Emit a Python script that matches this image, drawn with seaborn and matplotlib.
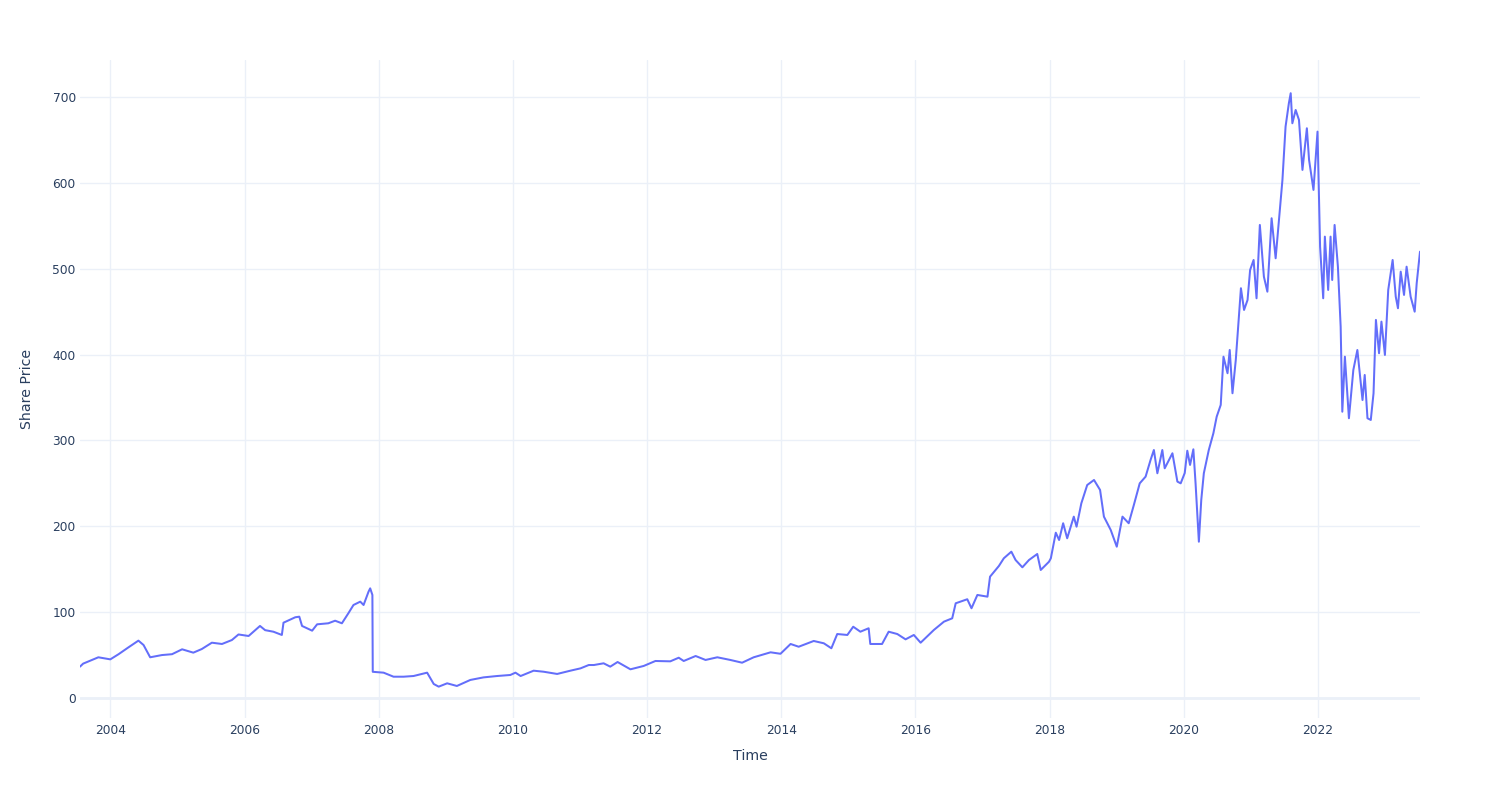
import matplotlib
matplotlib.use("Agg")
import matplotlib.pyplot as plt
import matplotlib.dates as mdates
import pandas as pd
import seaborn as sns

# ---- data ----
dates = [
    "2003-07-20", "2003-08-06", "2003-10-28", "2004-01-01", "2004-02-15", "2004-04-09",
    "2004-06-02", "2004-06-30", "2004-08-05", "2004-10-08", "2004-12-02", "2005-01-26",
    "2005-03-28", "2005-05-13", "2005-07-07", "2005-08-31", "2005-10-24", "2005-11-29",
    "2006-01-23", "2006-03-26", "2006-04-23", "2006-06-07", "2006-07-23", "2006-08-01",
    "2006-10-04", "2006-10-26", "2006-11-10", "2007-01-04", "2007-01-31", "2007-04-02",
    "2007-05-09", "2007-06-15", "2007-07-20", "2007-08-17", "2007-09-23", "2007-10-11",
    "2007-11-07", "2007-11-16", "2007-11-28", "2007-11-30", "2008-01-28", "2008-03-22",
    "2008-05-16", "2008-07-09", "2008-09-21", "2008-10-27", "2008-11-23", "2009-01-08",
    "2009-03-02", "2009-05-14", "2009-07-25", "2009-10-07", "2009-12-18", "2010-01-15",
    "2010-02-12", "2010-04-24", "2010-06-17", "2010-08-30", "2010-11-10", "2011-01-04",
    "2011-02-18", "2011-03-18", "2011-05-10", "2011-06-15", "2011-07-25", "2011-10-03",
    "2011-12-14", "2012-02-16", "2012-05-07", "2012-06-22", "2012-07-19", "2012-09-22",
    "2012-11-15", "2013-01-18", "2013-03-30", "2013-06-02", "2013-08-04", "2013-11-04",
    "2013-12-28", "2014-02-21", "2014-04-06", "2014-06-27", "2014-08-21", "2014-10-01",
    "2014-11-02", "2014-12-27", "2015-01-28", "2015-03-08", "2015-04-22", "2015-05-01",
    "2015-07-04", "2015-08-09", "2015-09-25", "2015-11-09", "2015-12-24", "2016-01-30",
    "2016-04-11", "2016-06-05", "2016-07-20", "2016-08-08", "2016-10-10", "2016-11-02",
    "2016-12-04", "2017-01-28", "2017-02-11", "2017-03-31", "2017-04-27", "2017-06-07",
    "2017-06-30", "2017-08-06", "2017-09-11", "2017-10-26", "2017-11-14", "2017-12-29",
    "2018-01-08", "2018-02-04", "2018-02-22", "2018-03-16", "2018-04-07", "2018-05-13",
    "2018-05-28", "2018-06-23", "2018-07-25", "2018-08-31", "2018-10-03", "2018-10-24",
    "2018-11-30", "2019-01-02", "2019-02-02", "2019-03-08", "2019-04-05", "2019-05-07",
    "2019-06-08", "2019-07-05", "2019-07-23", "2019-08-11", "2019-09-07", "2019-09-20",
    "2019-11-01", "2019-11-28", "2019-12-16", "2020-01-07", "2020-01-21", "2020-02-05",
    "2020-02-23", "2020-03-06", "2020-03-24", "2020-04-06", "2020-04-20", "2020-05-17",
    "2020-06-11", "2020-06-29", "2020-07-21", "2020-08-05", "2020-08-27", "2020-09-08",
    "2020-09-23", "2020-10-11", "2020-10-20", "2020-11-08", "2020-11-25", "2020-12-14",
    "2020-12-28", "2021-01-16", "2021-02-01", "2021-02-19", "2021-03-13", "2021-04-01",
    "2021-04-24", "2021-05-16", "2021-06-03", "2021-06-22", "2021-07-09", "2021-07-27",
    "2021-08-06", "2021-08-15", "2021-09-02", "2021-09-20", "2021-10-09", "2021-11-02",
    "2021-11-14", "2021-12-08", "2021-12-30", "2022-01-13", "2022-01-30", "2022-02-08",
    "2022-02-26", "2022-03-11", "2022-03-20", "2022-04-02", "2022-04-20", "2022-05-05",
    "2022-05-14", "2022-05-28", "2022-06-19", "2022-07-13", "2022-08-04", "2022-09-01",
    "2022-09-13", "2022-09-28", "2022-10-16", "2022-10-31", "2022-11-13", "2022-11-30",
    "2022-12-13", "2023-01-01", "2023-01-19", "2023-02-12", "2023-03-01", "2023-03-13",
    "2023-03-28", "2023-04-15", "2023-04-29", "2023-05-21", "2023-06-12", "2023-06-23",
    "2023-07-11",
]
prices = [
    36.5, 40.0, 47.4, 45.0, 51.0, 59.0,
    66.8, 61.7, 47.4, 50.0, 51.0, 56.7,
    52.8, 57.0, 64.4, 62.9, 67.5, 74.0,
    72.2, 83.9, 79.0, 77.2, 73.4, 87.7,
    94.0, 94.7, 83.9, 78.4, 85.8, 87.0,
    90.0, 87.0, 98.6, 108.3, 112.2, 108.3,
    123.8, 127.7, 120.0, 30.5, 29.5, 24.8,
    24.8, 25.6, 29.5, 16.3, 13.2, 17.1,
    14.0, 21.0, 24.0, 25.6, 26.8, 29.5,
    25.6, 31.8, 30.6, 28.0, 31.8, 34.5,
    38.4, 38.4, 40.4, 36.5, 41.9, 33.4,
    37.3, 43.1, 42.7, 46.9, 43.1, 48.9,
    44.3, 47.4, 44.3, 41.1, 47.4, 53.2,
    51.5, 62.9, 59.7, 66.4, 63.7, 57.9,
    74.5, 73.4, 83.0, 77.2, 81.2, 62.9,
    62.9, 77.2, 74.5, 68.3, 73.4, 64.4,
    79.2, 88.9, 92.8, 110.3, 115.0, 104.5,
    120.0, 118.0, 141.3, 153.7, 162.7, 170.4,
    160.7, 152.2, 160.7, 167.7, 149.1, 158.7,
    162.7, 192.5, 184.0, 203.5, 186.0, 211.2,
    199.5, 226.7, 248.0, 253.9, 242.3, 211.2,
    195.7, 176.2, 211.2, 203.5, 224.8, 250.0,
    257.8, 277.2, 288.8, 261.7, 288.8, 267.5,
    285.0, 252.0, 250.0, 262.0, 288.0, 271.4,
    289.6, 250.0, 182.0, 230.6, 261.7, 288.8,
    308.3, 327.6, 341.3, 397.5, 378.2, 405.3,
    354.9, 393.7, 420.8, 477.2, 451.9, 463.5,
    498.5, 510.1, 465.5, 550.9, 490.7, 473.2,
    558.7, 512.1, 556.7, 603.3, 665.4, 692.6,
    704.3, 669.3, 684.8, 673.2, 615.0, 663.5,
    626.6, 591.7, 659.6, 525.6, 465.5, 537.3,
    475.2, 537.3, 486.8, 550.9, 502.3, 432.4,
    333.4, 397.5, 325.8, 382.0, 405.3, 347.0,
    376.2, 325.8, 323.8, 354.9, 440.3, 401.5,
    438.3, 399.5, 475.2, 510.1, 467.4, 453.9,
    496.5, 469.4, 502.3, 467.4, 449.9, 483.0,
    519.8,
]
y_ticks = [0, 100, 200, 300, 400, 500, 600, 700]
x_label = "Time"
y_label = "Share Price"

# ---- styling (plotly-white look) ----
LINE = "#636EFA"
GRID = "#EBF0F8"
TEXT = "#2a3f5f"

sns.set_theme(style="white")
plt.rcParams["font.family"] = ["DejaVu Sans"]

df = pd.DataFrame({"Time": pd.to_datetime(dates), "Share Price": prices})

fig = plt.figure(figsize=(15, 8), dpi=100)
ax = fig.add_axes([80 / 1500, 82 / 800, 1340 / 1500, 658 / 800])

sns.lineplot(data=df, x="Time", y="Share Price", ax=ax, color=LINE,
             linewidth=1.45, zorder=3)

ax.set_xlim(df["Time"].min(), df["Time"].max())
ax.set_ylim(-23.3, 743)

ax.xaxis.set_major_locator(mdates.YearLocator(2))
ax.xaxis.set_major_formatter(mdates.DateFormatter("%Y"))
ax.set_yticks(y_ticks)
ax.set_yticklabels([str(v) for v in y_ticks])

ax.grid(True, color=GRID, linewidth=1.0, zorder=0)
ax.axhline(0, color=GRID, linewidth=2.0, zorder=1)
for s in ax.spines.values():
    s.set_visible(False)

ax.tick_params(axis="both", length=0, labelsize=8.8, labelcolor=TEXT)
ax.tick_params(axis="x", pad=4)
ax.tick_params(axis="y", pad=3)

ax.set_xlabel(x_label, fontsize=10.2, color=TEXT)
ax.set_ylabel(y_label, fontsize=10.2, color=TEXT)
ax.xaxis.set_label_coords(0.5, (718 - 756) / 658)
ax.xaxis.label.set_va("center")
ax.yaxis.set_label_coords((27 - 80) / 1340, 0.5)
ax.yaxis.label.set_va("center")

fig.savefig("out.png", dpi=100, facecolor="white")
